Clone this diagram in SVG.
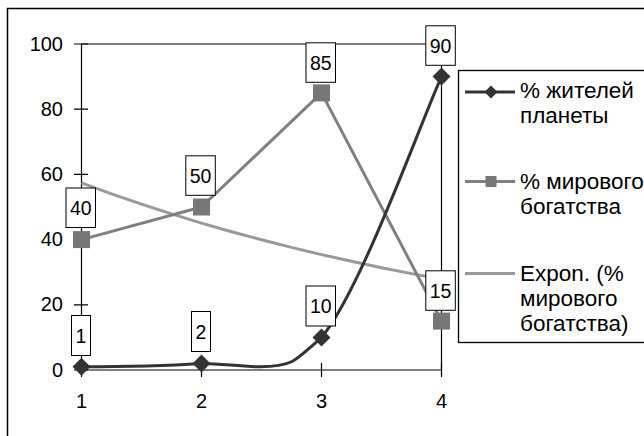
<svg xmlns="http://www.w3.org/2000/svg" width="644" height="436" viewBox="0 0 644 436">
<style>
text{font-family:"Liberation Sans",Arial,sans-serif;fill:#000}
.ax{font-size:20px}
.ya{text-anchor:end}
.xa{text-anchor:middle}
.dl{font-size:19.5px;text-anchor:middle}
.lg{font-size:22.5px}
.box{fill:#fff;stroke:#000;stroke-width:1}
.axis{stroke:#000;stroke-width:1.2;fill:none}
.s1{stroke:#333;stroke-width:3;fill:none;stroke-linejoin:round}
.s2{stroke:#808080;stroke-width:3;fill:none;stroke-linejoin:round}
.tr{stroke:#999;stroke-width:3;fill:none;stroke-linejoin:round}
.dm{fill:#333}
.sq{fill:#777}
</style>
<defs>
<path id="dia" d="M0,-9 L9,0 L0,9 L-9,0 Z"/>
<rect id="sqr" x="-8.5" y="-8.5" width="17" height="17"/>
</defs>
<rect x="7.5" y="8.5" width="700" height="500" fill="#fff" stroke="#000" stroke-width="1.5"/>
<g id="axes">
<path class="axis" d="M81.5,44 H441.5 V370 M81.5,44 V370 H441.5"/>
<path class="axis" d="M74,44 H88 M74,109.2 H88 M74,174.4 H88 M74,239.6 H88 M74,304.8 H88 M74,370 H88"/>
<path class="axis" d="M81.5,370 V377 M201.5,363 V377 M321.5,363 V377 M441.5,363 V377"/>
<text class="ax ya" x="63" y="50.5">100</text>
<text class="ax ya" x="63" y="115.7">80</text>
<text class="ax ya" x="63" y="180.9">60</text>
<text class="ax ya" x="63" y="246.1">40</text>
<text class="ax ya" x="63" y="311.3">20</text>
<text class="ax ya" x="63" y="376.5">0</text>
<text class="ax xa" x="81.5" y="408">1</text>
<text class="ax xa" x="201.5" y="408">2</text>
<text class="ax xa" x="321.5" y="408">3</text>
<text class="ax xa" x="441.5" y="408">4</text>
</g>
<g id="connectors">
<polyline id="trend" class="tr" points="81.5,182.9 111.5,193.9 141.5,204.2 171.5,213.9 201.5,223.1 231.5,231.7 261.5,239.8 291.5,247.4 321.5,254.6 351.5,261.3 381.5,267.7 411.5,273.6 441.5,279.3"/>
<polyline id="series2" class="s2" points="81.5,239.6 201.5,207 321.5,92.9 441.5,321.1"/>
<path id="series1" class="s1" d="M81.5,366.7 C120,366.7 160,366.2 201.5,363.5 C220,363.3 240,366.8 260,366.8 C275,366.8 285,365 292,361.5 C300,357 312,346 321.5,337.4 C361.5,289.6 421.5,120.1 441.5,76.6"/>
</g>
<g id="markers">
<use href="#sqr" class="sq" x="81.5" y="239.6"/>
<use href="#sqr" class="sq" x="201.5" y="207"/>
<use href="#sqr" class="sq" x="321.5" y="92.9"/>
<use href="#sqr" class="sq" x="441.5" y="321.1"/>
<use href="#dia" class="dm" x="81.5" y="366.7"/>
<use href="#dia" class="dm" x="201.5" y="363.5"/>
<use href="#dia" class="dm" x="321.5" y="337.4"/>
<use href="#dia" class="dm" x="441.5" y="76.6"/>
</g>
<g id="labels">
<g id="lbl-1"><rect class="box" x="71.5" y="315.5" width="19" height="40"/><text class="dl" x="81" y="342.5">1</text></g>
<g id="lbl-2"><rect class="box" x="191.5" y="311.5" width="19" height="40"/><text class="dl" x="201" y="338.5">2</text></g>
<g id="lbl-10"><rect class="box" x="306" y="286" width="29.5" height="40"/><text class="dl" x="320.8" y="313">10</text></g>
<g id="lbl-90"><rect class="box" x="425.8" y="25.8" width="29.5" height="39.5"/><text class="dl" x="440.6" y="52.5">90</text></g>
<g id="lbl-40"><rect class="box" x="66" y="188" width="29.5" height="39.5"/><text class="dl" x="80.8" y="214.8">40</text></g>
<g id="lbl-50"><rect class="box" x="185.8" y="155.8" width="29.5" height="39.5"/><text class="dl" x="200.6" y="182.5">50</text></g>
<g id="lbl-85"><rect class="box" x="306" y="42.8" width="29.5" height="39.5"/><text class="dl" x="320.8" y="69.5">85</text></g>
<g id="lbl-15"><rect class="box" x="425.8" y="270.8" width="29.5" height="39.5"/><text class="dl" x="440.6" y="297.5">15</text></g>
</g>
<g id="legend">
<rect x="458.5" y="70.5" width="200" height="272" fill="#fff" stroke="#000" stroke-width="1.3"/>
<g id="leg1">
<line class="s1" x1="465" y1="92" x2="515" y2="92"/>
<path class="dm" d="M491,85.5 L497.5,92 L491,98.5 L484.5,92 Z"/>
<text class="lg" x="520" y="97.5">% жителей</text>
<text class="lg" x="520" y="123">планеты</text>
</g>
<g id="leg2">
<line class="s2" x1="465" y1="181.5" x2="515" y2="181.5"/>
<rect class="sq" x="485.5" y="176" width="11" height="11"/>
<text class="lg" x="520" y="188.5">% мирового</text>
<text class="lg" x="520" y="213.5">богатства</text>
</g>
<g id="leg3">
<line class="tr" x1="465" y1="273.5" x2="515" y2="273.5"/>
<text class="lg" x="520" y="280.5">Expon. (%</text>
<text class="lg" x="520" y="305.5">мирового</text>
<text class="lg" x="520" y="330.5">богатства)</text>
</g>
</g>
</svg>
